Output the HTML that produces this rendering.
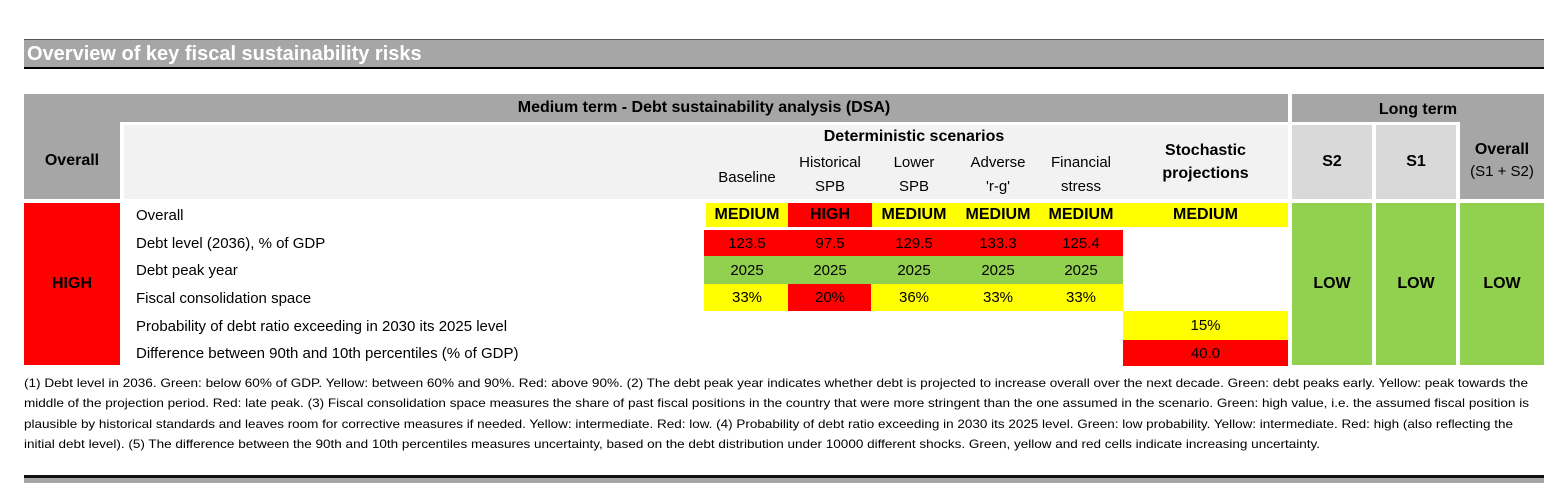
<!DOCTYPE html>
<html><head><meta charset="utf-8"><style>
body{margin:0;width:1544px;height:483px;overflow:hidden;background:#fff;font-family:"Liberation Sans",sans-serif;position:relative}
div{position:absolute;box-sizing:border-box}
.c{display:flex;align-items:center;justify-content:center;text-align:center;font-size:15px;color:#000}
.b{font-weight:bold;font-size:16px}
.l{display:flex;align-items:center;font-size:15px;padding-left:12px}
.y{background:#ffff00}.r{background:#ff0000}.g{background:#92d050}
</style></head><body>
<div style="left:24px;top:39px;width:1520px;height:1px;background:#555"></div>
<div style="left:24px;top:40px;width:1520px;height:27px;background:#a6a6a6;color:#fff;font-weight:bold;font-size:20px;line-height:29px;padding-left:3px">Overview of key fiscal sustainability risks</div>
<div style="left:24px;top:67px;width:1520px;height:2px;background:#000"></div>

<div style="left:24px;top:94px;width:1264px;height:105px;background:#a6a6a6"></div>
<div class="c b" style="left:120px;top:94px;width:1168px;height:28px">Medium term - Debt sustainability analysis (DSA)</div>
<div style="left:120px;top:122px;width:1168px;height:77px;background:#fff"></div>
<div style="left:124px;top:125px;width:1164px;height:74px;background:#f2f2f2"></div>
<div class="c b" style="left:24px;top:122px;width:96px;height:77px">Overall</div>
<div class="c b" style="left:706px;top:125px;width:416px;height:24px">Deterministic scenarios</div>
<div class="c" style="left:706px;top:155px;width:82px;height:44px">Baseline</div>
<div class="c" style="left:788px;top:150px;width:84px;height:50px;line-height:24px">Historical<br>SPB</div>
<div class="c" style="left:872px;top:150px;width:84px;height:50px;line-height:24px">Lower<br>SPB</div>
<div class="c" style="left:956px;top:150px;width:84px;height:50px;line-height:24px">Adverse<br>'r-g'</div>
<div class="c" style="left:1040px;top:150px;width:82px;height:50px;line-height:24px">Financial<br>stress</div>
<div class="c b" style="left:1123px;top:135px;width:165px;height:54px;line-height:23px">Stochastic<br>projections</div>

<div style="left:1292px;top:94px;width:252px;height:105px;background:#a6a6a6"></div>
<div class="c b" style="left:1292px;top:94px;width:252px;height:31px">Long term</div>
<div style="left:1292px;top:122px;width:168px;height:77px;background:#fff"></div>
<div class="c b" style="left:1292px;top:125px;width:80px;height:74px;background:#d9d9d9">S2</div>
<div class="c b" style="left:1376px;top:125px;width:80px;height:74px;background:#d9d9d9">S1</div>
<div class="c" style="left:1460px;top:122px;width:84px;height:77px;line-height:22px"><span><b style="font-size:16px">Overall</b><br>(S1 + S2)</span></div>

<div class="c b r" style="left:24px;top:203px;width:96px;height:162px">HIGH</div>
<div class="l" style="left:124px;top:203px;height:25px">Overall</div>
<div class="l" style="left:124px;top:230px;height:26px">Debt level (2036), % of GDP</div>
<div class="l" style="left:124px;top:257px;height:27px">Debt peak year</div>
<div class="l" style="left:124px;top:285px;height:27px">Fiscal consolidation space</div>
<div class="l" style="left:124px;top:312px;height:28px">Probability of debt ratio exceeding in 2030 its 2025 level</div>
<div class="l" style="left:124px;top:340px;height:26px">Difference between 90th and 10th percentiles (% of GDP)</div>

<div class="y" style="left:706px;top:203px;width:582px;height:24px"></div>
<div class="c b" style="left:706px;top:203px;width:82px;height:24px">MEDIUM</div>
<div class="c b r" style="left:788px;top:203px;width:84px;height:24px">HIGH</div>
<div class="c b" style="left:872px;top:203px;width:84px;height:24px">MEDIUM</div>
<div class="c b" style="left:956px;top:203px;width:84px;height:24px">MEDIUM</div>
<div class="c b" style="left:1040px;top:203px;width:82px;height:24px">MEDIUM</div>
<div class="c b" style="left:1123px;top:203px;width:165px;height:24px">MEDIUM</div>

<div class="r" style="left:704px;top:230px;width:419px;height:26px"></div>
<div class="g" style="left:704px;top:256px;width:419px;height:28px"></div>
<div class="y" style="left:704px;top:284px;width:419px;height:27px"></div>
<div class="r" style="left:788px;top:284px;width:83px;height:27px"></div>

<div class="c" style="left:706px;top:230px;width:82px;height:26px">123.5</div>
<div class="c" style="left:788px;top:230px;width:84px;height:26px">97.5</div>
<div class="c" style="left:872px;top:230px;width:84px;height:26px">129.5</div>
<div class="c" style="left:956px;top:230px;width:84px;height:26px">133.3</div>
<div class="c" style="left:1040px;top:230px;width:82px;height:26px">125.4</div>
<div class="c" style="left:706px;top:256px;width:82px;height:28px">2025</div>
<div class="c" style="left:788px;top:256px;width:84px;height:28px">2025</div>
<div class="c" style="left:872px;top:256px;width:84px;height:28px">2025</div>
<div class="c" style="left:956px;top:256px;width:84px;height:28px">2025</div>
<div class="c" style="left:1040px;top:256px;width:82px;height:28px">2025</div>
<div class="c" style="left:706px;top:284px;width:82px;height:27px">33%</div>
<div class="c" style="left:788px;top:284px;width:84px;height:27px">20%</div>
<div class="c" style="left:872px;top:284px;width:84px;height:27px">36%</div>
<div class="c" style="left:956px;top:284px;width:84px;height:27px">33%</div>
<div class="c" style="left:1040px;top:284px;width:82px;height:27px">33%</div>
<div class="c y" style="left:1123px;top:311px;width:165px;height:29px">15%</div>
<div class="c r" style="left:1123px;top:340px;width:165px;height:26px">40.0</div>

<div class="c b g" style="left:1292px;top:203px;width:80px;height:162px">LOW</div>
<div class="c b g" style="left:1376px;top:203px;width:80px;height:162px">LOW</div>
<div class="c b g" style="left:1460px;top:203px;width:84px;height:162px">LOW</div>

<svg style="position:absolute;left:0;top:370px" width="1544" height="90" font-family="Liberation Sans, sans-serif" font-size="12" fill="#000">
<text x="24" y="17" textLength="1504" lengthAdjust="spacingAndGlyphs">(1) Debt level in 2036. Green: below 60% of GDP. Yellow: between 60% and 90%. Red: above 90%. (2) The debt peak year indicates whether debt is projected to increase overall over the next decade. Green: debt peaks early. Yellow: peak towards the</text>
<text x="24" y="37" textLength="1505" lengthAdjust="spacingAndGlyphs">middle of the projection period. Red: late peak. (3) Fiscal consolidation space measures the share of past fiscal positions in the country that were more stringent than the one assumed in the scenario.  Green: high value, i.e. the assumed fiscal position is</text>
<text x="24" y="58" textLength="1489" lengthAdjust="spacingAndGlyphs">plausible by historical standards and leaves room for corrective measures if needed. Yellow: intermediate. Red: low. (4) Probability of debt ratio exceeding in 2030 its 2025 level. Green: low probability. Yellow: intermediate. Red: high (also reflecting the</text>
<text x="24" y="78" textLength="1296" lengthAdjust="spacingAndGlyphs">initial debt level). (5) The difference between the 90th and 10th percentiles measures uncertainty, based on the debt distribution under 10000 different shocks. Green, yellow and red cells indicate increasing uncertainty.</text>
</svg>
<div style="left:24px;top:475px;width:1520px;height:3px;background:#111"></div>
<div style="left:24px;top:478px;width:1520px;height:5px;background:#a6a6a6"></div>
</body></html>
